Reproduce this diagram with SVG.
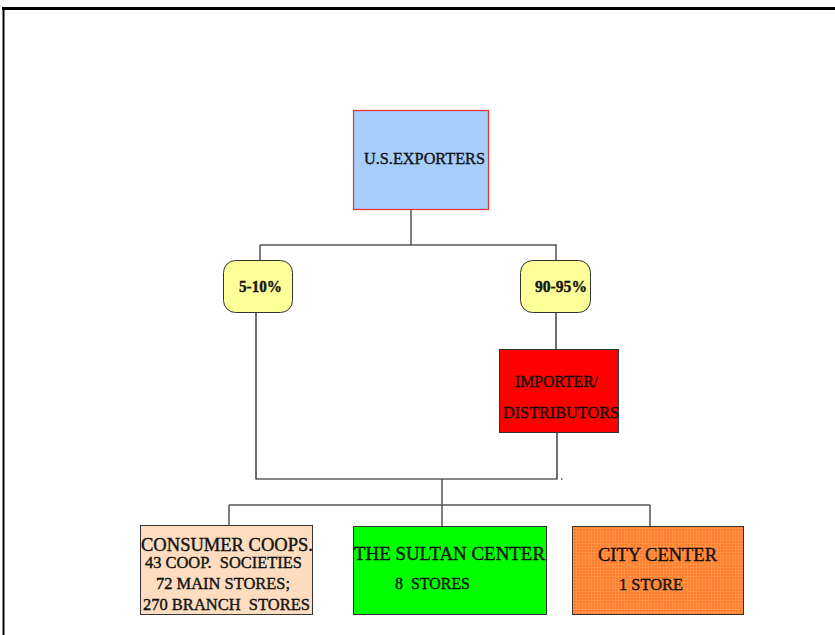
<svg xmlns="http://www.w3.org/2000/svg" width="835" height="635" viewBox="0 0 835 635">
<defs>
<pattern id="grid" width="3" height="3" patternUnits="userSpaceOnUse">
<rect width="3" height="3" fill="#ff7f2a"/>
<path d="M0 0.5H3M0.5 0V3" stroke="#ff9a55" stroke-width="0.6"/>
</pattern>
</defs>
<style>
.t{font-family:"Liberation Serif","Times New Roman",serif;fill:#1a1a1a;stroke:#000;stroke-width:0.35;white-space:pre}
.b{font-weight:bold}
.ln{stroke:#555;stroke-width:1.5;fill:none}
.lk{stroke:#111;stroke-width:1.2;fill:none}
.box{stroke:#333;stroke-width:1}
</style>
<rect width="835" height="635" fill="#fff"/>
<g id="frame">
<path d="M2 8.5H835" stroke="#000" stroke-width="3"/>
<path d="M3.5 7V635" stroke="#000" stroke-width="2"/>
</g>
<g id="connectors">
<path class="ln" d="M411 209V245M260 245H557M260 245V260M556 245V260"/>
<path class="lk" d="M256 313V479H557V433M556 313V349"/>
<path class="ln" d="M442 479V526M229 505H650M229 505V525M650 505V526"/>
<rect x="561" y="478.5" width="1.5" height="1" fill="#000"/>
</g>
<g id="us-exporters">
<rect x="353.5" y="110.5" width="135" height="99" fill="#a6cdfb" stroke="#e83030" stroke-width="1.2"/>
<text class="t" x="364" y="164" font-size="17.5" textLength="121" lengthAdjust="spacingAndGlyphs">U.S.EXPORTERS</text>
</g>
<g id="pct-5-10">
<rect x="223.5" y="260.5" width="69" height="52" rx="12" fill="#ffff99" stroke="#333"/>
<text class="t b" x="239" y="292" font-size="16" textLength="43" lengthAdjust="spacingAndGlyphs">5-10%</text>
</g>
<g id="pct-90-95">
<rect x="520.5" y="260.5" width="70" height="52" rx="12" fill="#ffff99" stroke="#333"/>
<text class="t b" x="535" y="292" font-size="16" textLength="52" lengthAdjust="spacingAndGlyphs">90-95%</text>
</g>
<g id="importer">
<rect class="box" x="499.5" y="349.5" width="119" height="83" fill="#ff0000"/>
<text class="t" x="515" y="387" font-size="17.5" textLength="83" lengthAdjust="spacingAndGlyphs">IMPORTER/</text>
<text class="t" x="503" y="418" font-size="17.5" textLength="116" lengthAdjust="spacingAndGlyphs">DISTRIBUTORS</text>
</g>
<g id="consumer-coops">
<rect class="box" x="140.5" y="525.5" width="172" height="89" fill="#fddcbf"/>
<text class="t" x="141" y="551" font-size="18" textLength="172" lengthAdjust="spacingAndGlyphs">CONSUMER COOPS.</text>
<text class="t" x="145" y="568" font-size="16" textLength="157" lengthAdjust="spacingAndGlyphs">43 COOP.  SOCIETIES</text>
<text class="t" x="156" y="589" font-size="16" textLength="134" lengthAdjust="spacingAndGlyphs">72 MAIN STORES;</text>
<text class="t" x="143" y="610" font-size="16" textLength="167" lengthAdjust="spacingAndGlyphs">270 BRANCH  STORES</text>
</g>
<g id="sultan-center">
<rect class="box" x="353.5" y="526.5" width="193" height="88" fill="#00ff00"/>
<text class="t" x="354" y="560" font-size="19.5" textLength="191" lengthAdjust="spacingAndGlyphs">THE SULTAN CENTER</text>
<text class="t" x="395" y="589" font-size="17" textLength="75" lengthAdjust="spacingAndGlyphs">8  STORES</text>
</g>
<g id="city-center">
<rect class="box" x="572.5" y="526.5" width="171" height="88" fill="url(#grid)"/>
<text class="t" x="598" y="561" font-size="19.5" textLength="119" lengthAdjust="spacingAndGlyphs">CITY CENTER</text>
<text class="t" x="619" y="590" font-size="17" textLength="64" lengthAdjust="spacingAndGlyphs">1 STORE</text>
</g>
</svg>
